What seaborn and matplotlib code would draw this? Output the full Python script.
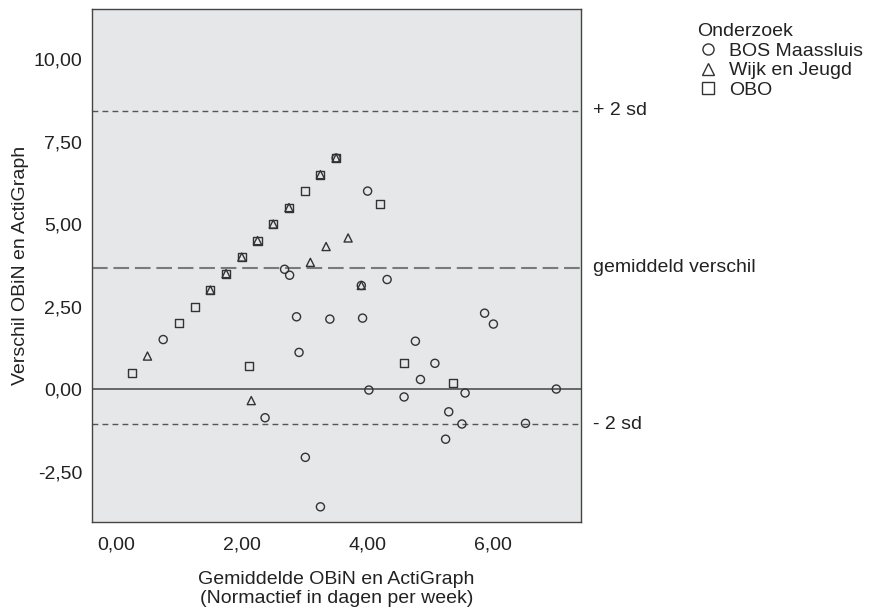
import matplotlib
matplotlib.use("Agg")
import matplotlib.pyplot as plt
import matplotlib.transforms as mtransforms
from matplotlib.lines import Line2D
import seaborn as sns
import pandas as pd

# ---- data ----
bos_x = [0.75, 2.68, 2.76, 2.87, 2.91, 3.40, 3.92, 3.90, 4.00, 4.31, 4.76, 4.84, 5.07,
         4.02, 4.58, 5.55, 5.29, 5.50, 6.51, 5.24, 5.86, 6.00, 7.00, 2.37, 3.01, 3.25, 3.50]
bos_y = [1.50, 3.63, 3.45, 2.19, 1.11, 2.12, 2.15, 3.14, 6.00, 3.32, 1.45, 0.29, 0.78,
         -0.03, -0.24, -0.12, -0.69, -1.06, -1.04, -1.52, 2.30, 1.97, 0.00, -0.87, -2.07, -3.57, 7.00]

wj_x = [0.50, 1.50, 1.75, 2.00, 2.25, 2.50, 2.75, 3.25, 3.50, 3.09, 3.34, 3.69, 3.90, 2.15]
wj_y = [1.00, 3.00, 3.50, 4.00, 4.50, 5.00, 5.50, 6.50, 7.00, 3.84, 4.32, 4.58, 3.14, -0.35]

obo_x = [0.25, 1.00, 1.25, 1.50, 1.75, 2.00, 2.25, 2.50, 2.75, 3.00, 3.25, 3.50, 4.20, 2.12, 4.58, 5.36]
obo_y = [0.50, 2.00, 2.50, 3.00, 3.50, 4.00, 4.50, 5.00, 5.50, 6.00, 6.50, 7.00, 5.60, 0.71, 0.78, 0.19]

groups = ["BOS Maassluis", "Wijk en Jeugd", "OBO"]
mean_diff = 3.67
upper_sd = 8.43
lower_sd = -1.07

x_ticks = [0, 2, 4, 6]
x_ticklabels = ["0,00", "2,00", "4,00", "6,00"]
y_ticks = [-2.5, 0, 2.5, 5, 7.5, 10]
y_ticklabels = ["-2,50", "0,00", "2,50", "5,00", "7,50", "10,00"]

df = pd.DataFrame({
    "x": bos_x + wj_x + obo_x,
    "y": bos_y + wj_y + obo_y,
    "Onderzoek": [groups[0]] * len(bos_x) + [groups[1]] * len(wj_x) + [groups[2]] * len(obo_x),
})

# ---- style ----
sns.set_style("white")
plt.rcParams["font.family"] = ["Liberation Sans", "DejaVu Sans"]

FS = 14
txt = "#222222"
fig = plt.figure(figsize=(8.72, 6.11), dpi=100)
ax = fig.add_axes([0.1055, 0.1462, 0.5608, 0.8391])
ax.set_facecolor("#E6E7E8")

edge = "#333333"
markers = {"BOS Maassluis": "o", "Wijk en Jeugd": "^", "OBO": "s"}

ax.axhline(0, color="#444444", lw=1.1, zorder=1)
ax.axhline(mean_diff, color="#7a7a7a", lw=1.5, ls=(0, (7.5, 2.8)), zorder=1)
ax.axhline(upper_sd, color="#555555", lw=1.0, ls=(0, (4.2, 3.0)), zorder=1)
ax.axhline(lower_sd, color="#555555", lw=1.0, ls=(0, (4.2, 3.0)), zorder=1)

sns.scatterplot(data=df, x="x", y="y", style="Onderzoek", markers=markers,
                style_order=groups, s=34, facecolor="none", edgecolor=edge,
                linewidth=1.0, legend=False, ax=ax, zorder=3)

ax.set_xlim(-0.382, 7.393)
ax.set_ylim(-4.02, 11.52)
ax.set_xticks(x_ticks)
ax.set_xticklabels(x_ticklabels)
ax.set_yticks(y_ticks)
ax.set_yticklabels(y_ticklabels)
ax.tick_params(axis="both", direction="out", length=5, width=1, color="#333333",
               labelsize=FS, labelcolor=txt, pad=2)
ax.tick_params(axis="x", pad=6)
for sp in ax.spines.values():
    sp.set_color("#444444")
    sp.set_linewidth(1.0)

ax.set_xlabel("Gemiddelde OBiN en ActiGraph\n(Normactief in dagen per week)",
              fontsize=FS, color=txt, labelpad=12, linespacing=1.2)
ax.set_ylabel("Verschil OBiN en ActiGraph", fontsize=FS, color=txt, labelpad=3)

trans = mtransforms.blended_transform_factory(ax.transAxes, ax.transData)
for yv, lab in [(upper_sd, "+ 2 sd"), (mean_diff, "gemiddeld verschil"), (lower_sd, "- 2 sd")]:
    ax.text(1.024, yv, lab, transform=trans, va="center", ha="left",
            fontsize=FS, color=txt, clip_on=False)

handles = [Line2D([], [], marker=markers[g], ls="none", mfc="none", mec=edge,
                  mew=1.0, ms=8) for g in groups]
leg = fig.legend(handles, groups, title="Onderzoek", loc="upper left",
                 bbox_to_anchor=(0.800, 0.962), frameon=False, fontsize=FS,
                 title_fontsize=FS, handlelength=1.1, handletextpad=0.5,
                 labelspacing=0.1, borderaxespad=0, borderpad=0)
leg._legend_box.align = "left"
leg.get_title().set_color(txt)
for t in leg.get_texts():
    t.set_color(txt)

fig.savefig("out.png", dpi=100)
